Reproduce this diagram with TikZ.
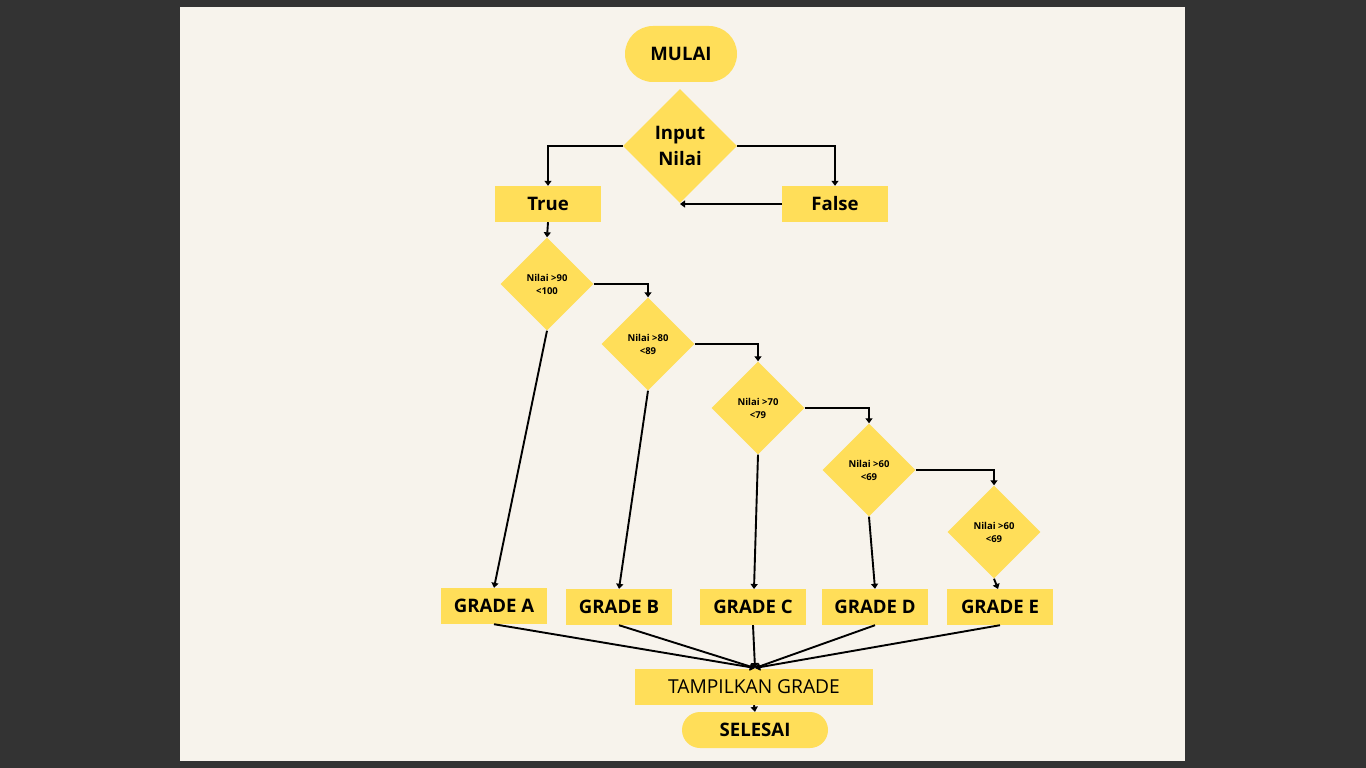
\documentclass[tikz,border=0pt]{standalone}
\usepackage{fontspec}
\setmainfont{Open Sans}
\usetikzlibrary{shapes.geometric,shapes.misc,arrows.meta}
\definecolor{pagebg}{HTML}{F7F3EC}
\definecolor{darkbg}{HTML}{333333}
\definecolor{ylw}{HTML}{FFDE59}
\begin{document}
\begin{tikzpicture}[x=1pt,y=-1pt,
  box/.style={fill=ylw,draw=none,rectangle,minimum width=106pt,minimum height=36pt,inner sep=0pt,font=\fontsize{18.6}{20}\selectfont\bfseries},
  pill/.style={fill=ylw,draw=none,rounded rectangle,inner sep=0pt,font=\fontsize{18.6}{20}\selectfont\bfseries},
  dia/.style={fill=ylw,draw=none,diamond,minimum width=93pt,minimum height=93pt,inner sep=0pt,align=center,font=\fontsize{9.5}{13}\selectfont\bfseries},
  conn/.style={line width=1.9pt,-{Triangle[length=5pt,width=7pt]}}
]
\useasboundingbox (0,0) rectangle (1366,768);
\fill[darkbg] (0,0) rectangle (1366,768);
\fill[pagebg] (180,7) rectangle (1185,761);

\node[pill,minimum width=112pt,minimum height=56pt] (mulai) at (681,54) {MULAI};
\node[fill=ylw,diamond,minimum width=114pt,minimum height=114pt,inner sep=0pt,align=center,font=\fontsize{18.6}{26}\selectfont\bfseries] (input) at (680,146) {Input\\Nilai};
\node[box] (true) at (548,204) {True};
\node[box] (false) at (835,204) {False};

\node[dia] (d1) at (547,284) {Nilai >90\\<100};
\node[dia] (d2) at (648,344) {Nilai >80\\<89};
\node[dia] (d3) at (758,408) {Nilai >70\\<79};
\node[dia] (d4) at (869,470) {Nilai >60\\<69};
\node[dia] (d5) at (994,532) {Nilai >60\\<69};

\node[box] (ga) at (494,606) {GRADE A};
\node[box] (gb) at (619,607) {GRADE B};
\node[box] (gc) at (753,607) {GRADE C};
\node[box] (gd) at (875,607) {GRADE D};
\node[box] (ge) at (1000,607) {GRADE E};

\node[box,minimum width=238pt,font=\fontsize{19.2}{20}\selectfont] (tampil) at (754,687) {TAMPILKAN GRADE};
\node[pill,minimum width=146pt,minimum height=36pt] (selesai) at (755,730) {SELESAI};

\coordinate (fx) at (680,204);
\coordinate (tj) at (755,668);
\coordinate (gct) at (754,589);
\coordinate (get) at (998,589);

\draw[conn] (input.west) -| (true.north);
\draw[conn] (input.east) -| (false.north);
\draw[conn] (false.west) -- (fx);
\draw[conn] (true.south) -- (d1.north);
\draw[conn] (d1.east) -| (d2.north);
\draw[conn] (d2.east) -| (d3.north);
\draw[conn] (d3.east) -| (d4.north);
\draw[conn] (d4.east) -| (d5.north);

\draw[conn] (d1.south) -- (ga.north);
\draw[conn] (d2.south) -- (gb.north);
\draw[conn] (d3.south) -- (gct);
\draw[conn] (d4.south) -- (gd.north);
\draw[conn] (d5.south) -- (get);

\draw[conn] (ga.south) -- (tj);
\draw[conn] (gb.south) -- (tj);
\draw[conn] (gc.south) -- (tj);
\draw[conn] (gd.south) -- (tj);
\draw[conn] (ge.south) -- (tj);
\draw[conn] (tampil.south) -- (selesai.north);
\end{tikzpicture}
\end{document}
